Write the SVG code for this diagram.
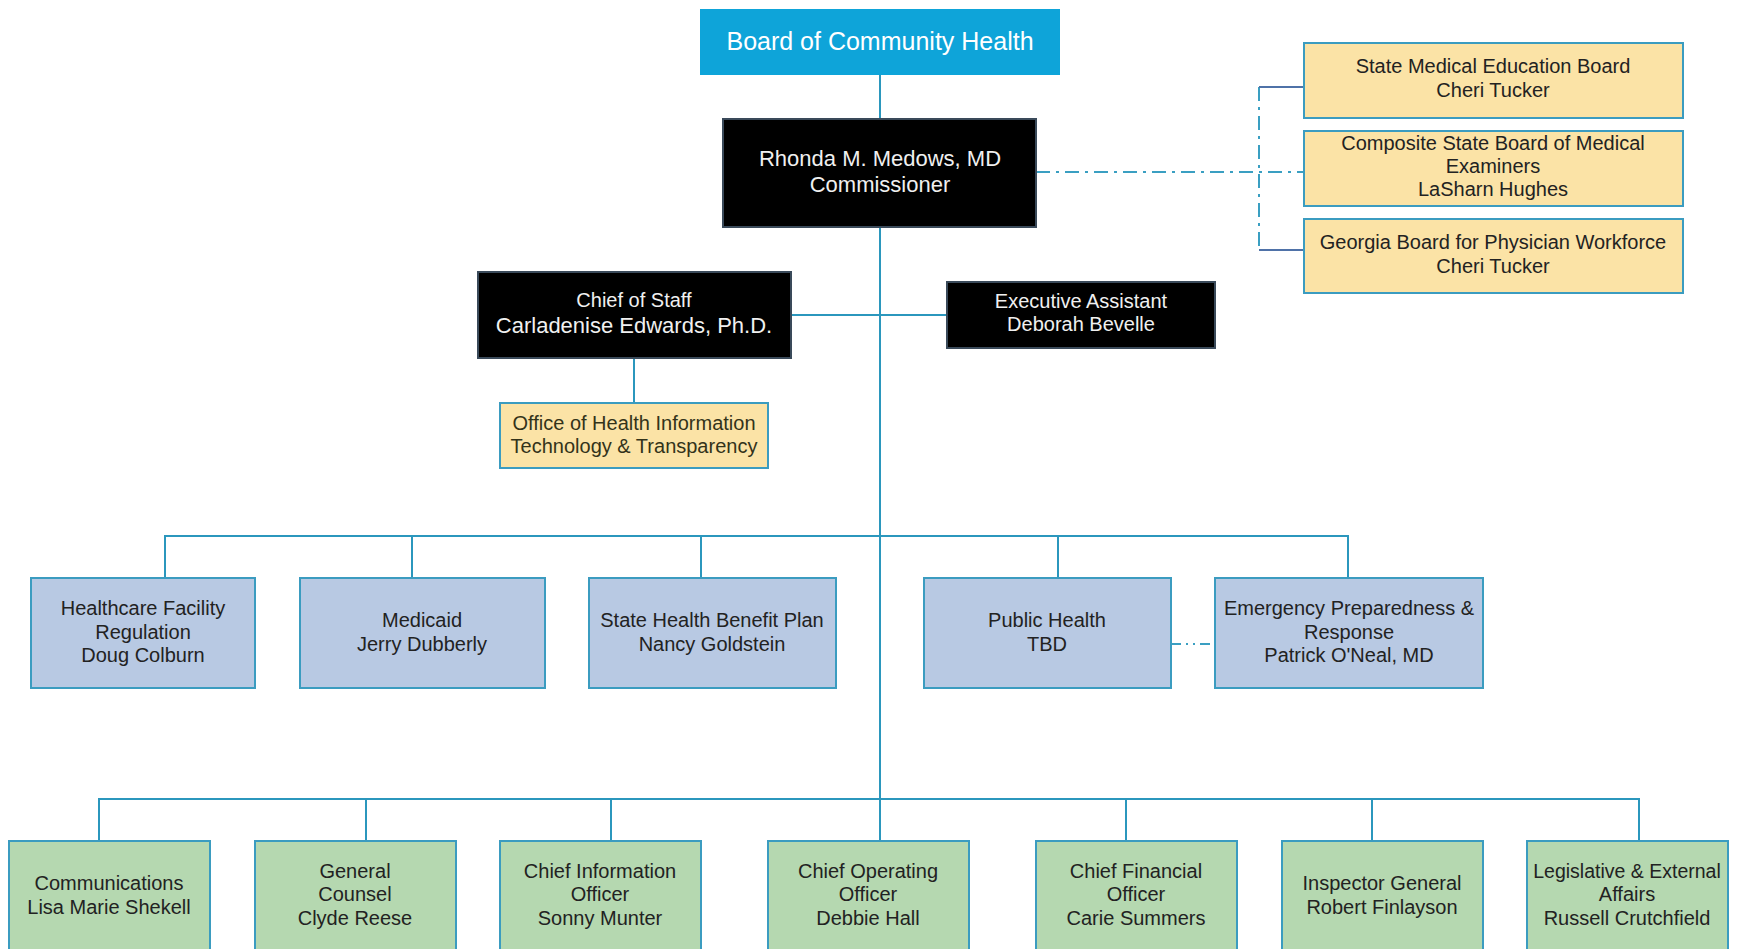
<svg xmlns="http://www.w3.org/2000/svg" width="1740" height="949" viewBox="0 0 1740 949">
<style>
text{font-family:"Liberation Sans",Arial,sans-serif;text-anchor:middle;font-size:20px;fill:#222}
.blk rect{fill:#000;stroke:#3a4a5a;stroke-width:2}
.blk text{fill:#f0f0f0;font-size:22px}
.yel rect{fill:#fbe3a6;stroke:#3b9cc0;stroke-width:2}
.blu rect{fill:#b8c9e3;stroke:#3b9cc0;stroke-width:2}
.grn rect{fill:#b5d8b0;stroke:#3b9cc0;stroke-width:2}
.ln{stroke:#2b97bd;stroke-width:2;fill:none}
.dd{stroke:#3a9fc2;stroke-width:2;fill:none;stroke-dasharray:14 6 3 6}
.br{stroke:#4f72a8;stroke-width:2;fill:none}
</style>
<g id="connectors">
<line class="ln" x1="880" y1="75" x2="880" y2="119"/>
<line class="ln" x1="880" y1="227" x2="880" y2="841"/>
<line class="ln" x1="791" y1="315" x2="947" y2="315"/>
<line class="ln" x1="634" y1="358" x2="634" y2="403"/>
<polyline class="ln" points="165,578 165,536 1348,536 1348,578"/>
<line class="ln" x1="412" y1="536" x2="412" y2="578"/>
<line class="ln" x1="701" y1="536" x2="701" y2="578"/>
<line class="ln" x1="1058" y1="536" x2="1058" y2="578"/>
<polyline class="ln" points="99,841 99,799 1639,799 1639,841"/>
<line class="ln" x1="366" y1="799" x2="366" y2="841"/>
<line class="ln" x1="611" y1="799" x2="611" y2="841"/>
<line class="ln" x1="1126" y1="799" x2="1126" y2="841"/>
<line class="ln" x1="1372" y1="799" x2="1372" y2="841"/>
<line class="dd" x1="1036" y1="172" x2="1304" y2="172"/>
<line class="dd" x1="1259" y1="87" x2="1259" y2="250"/>
<line class="br" x1="1259" y1="87" x2="1304" y2="87"/>
<line class="br" x1="1259" y1="250" x2="1304" y2="250"/>
<line class="dd" x1="1171" y1="644" x2="1215" y2="644" style="stroke-dasharray:10 5 2 5 2 5"/>
</g>
<g id="board">
<rect x="700" y="9" width="360" height="66" fill="#0ea4d9"/>
<text x="880" y="50" style="fill:#fff;font-size:25px">Board of Community Health</text>
</g>
<g id="commissioner" class="blk">
<rect x="723" y="119" width="313" height="108"/>
<text x="880" y="166">Rhonda M. Medows, MD</text>
<text x="880" y="192">Commissioner</text>
</g>
<g id="smeb" class="yel">
<rect x="1304" y="43" width="379" height="75"/>
<text x="1493" y="73">State Medical Education Board</text>
<text x="1493" y="97">Cheri Tucker</text>
</g>
<g id="csbme" class="yel">
<rect x="1304" y="131" width="379" height="75"/>
<text x="1493" y="150">Composite State Board of Medical</text>
<text x="1493" y="173">Examiners</text>
<text x="1493" y="196">LaSharn Hughes</text>
</g>
<g id="gbpw" class="yel">
<rect x="1304" y="219" width="379" height="74"/>
<text x="1493" y="249">Georgia Board for Physician Workforce</text>
<text x="1493" y="273">Cheri Tucker</text>
</g>
<g id="chief-of-staff" class="blk">
<rect x="478" y="272" width="313" height="86"/>
<text x="634" y="307" style="font-size:20px">Chief of Staff</text>
<text x="634" y="333">Carladenise Edwards, Ph.D.</text>
</g>
<g id="exec-assistant" class="blk">
<rect x="947" y="282" width="268" height="66"/>
<text x="1081" y="308" style="font-size:20px">Executive Assistant</text>
<text x="1081" y="331" style="font-size:20px">Deborah Bevelle</text>
</g>
<g id="ohitt" class="yel">
<rect x="500" y="403" width="268" height="65"/>
<text x="634" y="430" style="fill:#33331a">Office of Health Information</text>
<text x="634" y="453" style="fill:#33331a">Technology &amp; Transparency</text>
</g>
<g id="hfr" class="blu">
<rect x="31" y="578" width="224" height="110"/>
<text x="143" y="615">Healthcare Facility</text>
<text x="143" y="639">Regulation</text>
<text x="143" y="662">Doug Colburn</text>
</g>
<g id="medicaid" class="blu">
<rect x="300" y="578" width="245" height="110"/>
<text x="422" y="627">Medicaid</text>
<text x="422" y="651">Jerry Dubberly</text>
</g>
<g id="shbp" class="blu">
<rect x="589" y="578" width="247" height="110"/>
<text x="712" y="627">State Health Benefit Plan</text>
<text x="712" y="651">Nancy Goldstein</text>
</g>
<g id="public-health" class="blu">
<rect x="924" y="578" width="247" height="110"/>
<text x="1047" y="627">Public Health</text>
<text x="1047" y="651">TBD</text>
</g>
<g id="epr" class="blu">
<rect x="1215" y="578" width="268" height="110"/>
<text x="1349" y="615">Emergency Preparedness &amp;</text>
<text x="1349" y="639">Response</text>
<text x="1349" y="662">Patrick O'Neal, MD</text>
</g>
<g id="communications" class="grn">
<rect x="9" y="841" width="201" height="120"/>
<text x="109" y="890">Communications</text>
<text x="109" y="914">Lisa Marie Shekell</text>
</g>
<g id="general-counsel" class="grn">
<rect x="255" y="841" width="201" height="120"/>
<text x="355" y="878">General</text>
<text x="355" y="901">Counsel</text>
<text x="355" y="925">Clyde Reese</text>
</g>
<g id="cio" class="grn">
<rect x="500" y="841" width="201" height="120"/>
<text x="600" y="878">Chief Information</text>
<text x="600" y="901">Officer</text>
<text x="600" y="925">Sonny Munter</text>
</g>
<g id="coo" class="grn">
<rect x="768" y="841" width="201" height="120"/>
<text x="868" y="878">Chief Operating</text>
<text x="868" y="901">Officer</text>
<text x="868" y="925">Debbie Hall</text>
</g>
<g id="cfo" class="grn">
<rect x="1036" y="841" width="201" height="120"/>
<text x="1136" y="878">Chief Financial</text>
<text x="1136" y="901">Officer</text>
<text x="1136" y="925">Carie Summers</text>
</g>
<g id="ig" class="grn">
<rect x="1282" y="841" width="201" height="120"/>
<text x="1382" y="890">Inspector General</text>
<text x="1382" y="914">Robert Finlayson</text>
</g>
<g id="leg" class="grn">
<rect x="1527" y="841" width="201" height="120"/>
<text x="1627" y="878" style="font-size:19.5px">Legislative &amp; External</text>
<text x="1627" y="901">Affairs</text>
<text x="1627" y="925">Russell Crutchfield</text>
</g>
</svg>
